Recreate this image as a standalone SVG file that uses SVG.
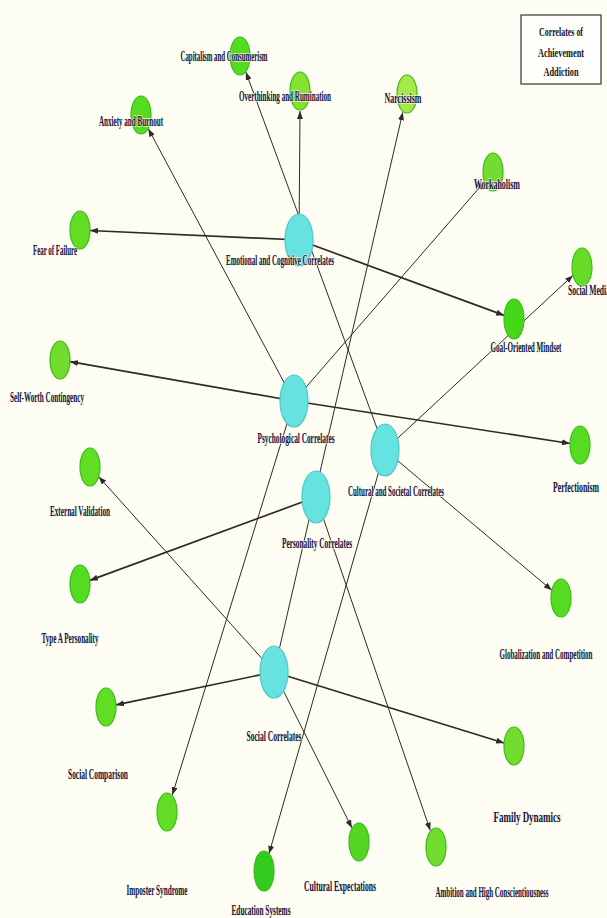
<svg xmlns="http://www.w3.org/2000/svg" width="607" height="918" viewBox="0 0 607 918">
<style>
.e{stroke:#2e2a26;stroke-width:1;fill:none}
.t{stroke-width:1.7}
.g{stroke:#3bbd18;stroke-width:1.2}
.c{fill:#66e2e0;stroke:#4cc9c6;stroke-width:1.2}
.l{font-family:"Liberation Serif",serif;font-weight:bold;font-size:14px;fill:#12124a;text-anchor:middle;stroke:#faf7d6;stroke-width:1.4;paint-order:stroke;stroke-linejoin:round}
.h{font-family:"Liberation Serif",serif;font-weight:bold;font-size:13.5px;fill:#141414;text-anchor:middle}
</style>
<defs>
<marker id="a" viewBox="0 0 8 6" refX="8" refY="3" markerWidth="8" markerHeight="6" markerUnits="userSpaceOnUse" orient="auto">
<path d="M0,0 L8,3 L0,6 z" fill="#2e2a26"/>
</marker>
</defs>
<rect width="607" height="918" fill="#fdfdf4"/>
<g id="title">
<rect x="521" y="15" width="80" height="69" fill="#fefefb" stroke="#333" stroke-width="1.2"/>
<text class="h" x="561" y="36" textLength="44" lengthAdjust="spacingAndGlyphs">Correlates of</text>
<text class="h" x="561" y="57" textLength="46" lengthAdjust="spacingAndGlyphs">Achievement</text>
<text class="h" x="561" y="76" textLength="35" lengthAdjust="spacingAndGlyphs">Addiction</text>
</g>
<g id="connectors">
<line class="e t" x1="299" y1="240" x2="90" y2="230.5" marker-end="url(#a)"/>
<line class="e t" x1="299" y1="240" x2="504.2" y2="315.4" marker-end="url(#a)"/>
<line class="e" x1="299" y1="240" x2="300" y2="111" marker-end="url(#a)"/>
<line class="e" x1="294" y1="401" x2="148.3" y2="128.7" marker-end="url(#a)"/>
<line class="e" x1="294" y1="401" x2="484.3" y2="182" marker-end="url(#a)"/>
<line class="e t" x1="294" y1="401" x2="70" y2="361.7" marker-end="url(#a)"/>
<line class="e t" x1="294" y1="401" x2="570" y2="443.5" marker-end="url(#a)"/>
<line class="e" x1="294" y1="401" x2="172.3" y2="795" marker-end="url(#a)"/>
<line class="e" x1="385" y1="450" x2="245.9" y2="72.1" marker-end="url(#a)"/>
<line class="e" x1="385" y1="450" x2="572.9" y2="275.4" marker-end="url(#a)"/>
<line class="e" x1="385" y1="450" x2="551.8" y2="590.2" marker-end="url(#a)"/>
<line class="e" x1="385" y1="450" x2="269" y2="853.7" marker-end="url(#a)"/>
<line class="e t" x1="316" y1="497" x2="89.8" y2="580.4" marker-end="url(#a)"/>
<line class="e" x1="316" y1="497" x2="430.3" y2="830.5" marker-end="url(#a)"/>
<line class="e" x1="274" y1="672" x2="98.7" y2="476.7" marker-end="url(#a)"/>
<line class="e t" x1="274" y1="672" x2="116" y2="704.9" marker-end="url(#a)"/>
<line class="e t" x1="274" y1="672" x2="504.1" y2="743" marker-end="url(#a)"/>
<line class="e" x1="274" y1="672" x2="351.9" y2="827.9" marker-end="url(#a)"/>
<line class="e" x1="274" y1="672" x2="402.8" y2="112.2" marker-end="url(#a)"/>
</g>
<g id="n-emotional"><ellipse class="c" cx="299" cy="240" rx="14" ry="26"/><text class="l" x="280" y="265" textLength="108" lengthAdjust="spacingAndGlyphs">Emotional and Cognitive Correlates</text></g>
<g id="n-psychological"><ellipse class="c" cx="294" cy="401" rx="14" ry="26"/><text class="l" x="296" y="443" textLength="77" lengthAdjust="spacingAndGlyphs">Psychological Correlates</text></g>
<g id="n-cultural"><ellipse class="c" cx="385" cy="450" rx="14" ry="26"/><text class="l" x="396" y="496" textLength="96" lengthAdjust="spacingAndGlyphs">Cultural and Societal Correlates</text></g>
<g id="n-personality"><ellipse class="c" cx="316" cy="497" rx="14" ry="26"/><text class="l" x="317" y="548" textLength="70" lengthAdjust="spacingAndGlyphs">Personality Correlates</text></g>
<g id="n-social"><ellipse class="c" cx="274" cy="672" rx="14" ry="26"/><text class="l" x="274" y="741" textLength="55" lengthAdjust="spacingAndGlyphs">Social Correlates</text></g>
<g id="n-capitalism"><ellipse class="g" cx="240" cy="56" rx="10" ry="19" fill="#55dc22"/><text class="l" x="224" y="61" textLength="87" lengthAdjust="spacingAndGlyphs">Capitalism and Consumerism</text></g>
<g id="n-overthinking"><ellipse class="g" cx="300" cy="91" rx="10" ry="19" fill="#84e233"/><text class="l" x="285" y="101" textLength="92" lengthAdjust="spacingAndGlyphs">Overthinking and Rumination</text></g>
<g id="n-anxiety"><ellipse class="g" cx="141" cy="115" rx="10" ry="19" fill="#55dc22"/><text class="l" x="131" y="126" textLength="64" lengthAdjust="spacingAndGlyphs">Anxiety and Burnout</text></g>
<g id="n-narcissism"><ellipse class="g" cx="407" cy="94" rx="10" ry="19" fill="#a6e84a" stroke="#8ccf30"/><text class="l" x="403" y="103" textLength="37" lengthAdjust="spacingAndGlyphs">Narcissism</text></g>
<g id="n-workaholism"><ellipse class="g" cx="493" cy="172" rx="10" ry="19" fill="#72dc30"/><text class="l" x="497" y="189" textLength="46" lengthAdjust="spacingAndGlyphs">Workaholism</text></g>
<g id="n-fear"><ellipse class="g" cx="80" cy="230" rx="10" ry="19" fill="#62dc24"/><text class="l" x="55" y="255" textLength="44" lengthAdjust="spacingAndGlyphs">Fear of Failure</text></g>
<g id="n-socialmedia"><ellipse class="g" cx="582" cy="267" rx="10" ry="19" fill="#66dc28"/><text class="l" x="589" y="295" textLength="42" lengthAdjust="spacingAndGlyphs">Social Media</text></g>
<g id="n-goal"><ellipse class="g" cx="514" cy="319" rx="10" ry="20" fill="#44d818"/><text class="l" x="526" y="352" textLength="71" lengthAdjust="spacingAndGlyphs">Goal-Oriented Mindset</text></g>
<g id="n-selfworth"><ellipse class="g" cx="60" cy="360" rx="10" ry="19" fill="#72dc2c"/><text class="l" x="47" y="402" textLength="74" lengthAdjust="spacingAndGlyphs">Self-Worth Contingency</text></g>
<g id="n-perfectionism"><ellipse class="g" cx="580" cy="445" rx="10" ry="19" fill="#55dc22"/><text class="l" x="576" y="492" textLength="46" lengthAdjust="spacingAndGlyphs">Perfectionism</text></g>
<g id="n-external"><ellipse class="g" cx="90" cy="467" rx="10" ry="19" fill="#62dc24"/><text class="l" x="80" y="516" textLength="60" lengthAdjust="spacingAndGlyphs">External Validation</text></g>
<g id="n-typea"><ellipse class="g" cx="80" cy="584" rx="10" ry="19" fill="#55dc22"/><text class="l" x="70" y="643" textLength="57" lengthAdjust="spacingAndGlyphs">Type A Personality</text></g>
<g id="n-globalization"><ellipse class="g" cx="561" cy="598" rx="10" ry="19" fill="#55dc22"/><text class="l" x="546" y="659" textLength="93" lengthAdjust="spacingAndGlyphs">Globalization and Competition</text></g>
<g id="n-comparison"><ellipse class="g" cx="106" cy="707" rx="10" ry="19" fill="#62dc24"/><text class="l" x="98" y="779" textLength="60" lengthAdjust="spacingAndGlyphs">Social Comparison</text></g>
<g id="n-family"><ellipse class="g" cx="514" cy="746" rx="10" ry="19" fill="#72dc30"/><text class="l" x="527" y="822" textLength="67" lengthAdjust="spacingAndGlyphs">Family Dynamics</text></g>
<g id="n-imposter"><ellipse class="g" cx="167" cy="812" rx="10" ry="19" fill="#62dc24"/><text class="l" x="157" y="895" textLength="61" lengthAdjust="spacingAndGlyphs">Imposter Syndrome</text></g>
<g id="n-education"><ellipse class="g" cx="264" cy="871" rx="10" ry="20" fill="#33cc1e" stroke="#22aa12"/><text class="l" x="261" y="915" textLength="59" lengthAdjust="spacingAndGlyphs">Education Systems</text></g>
<g id="n-culturalexp"><ellipse class="g" cx="359" cy="842" rx="10" ry="19" fill="#55d422"/><text class="l" x="340" y="891" textLength="72" lengthAdjust="spacingAndGlyphs">Cultural Expectations</text></g>
<g id="n-ambition"><ellipse class="g" cx="436" cy="847" rx="10" ry="19" fill="#72dc30"/><text class="l" x="492" y="897" textLength="113" lengthAdjust="spacingAndGlyphs">Ambition and High Conscientiousness</text></g>
</svg>
